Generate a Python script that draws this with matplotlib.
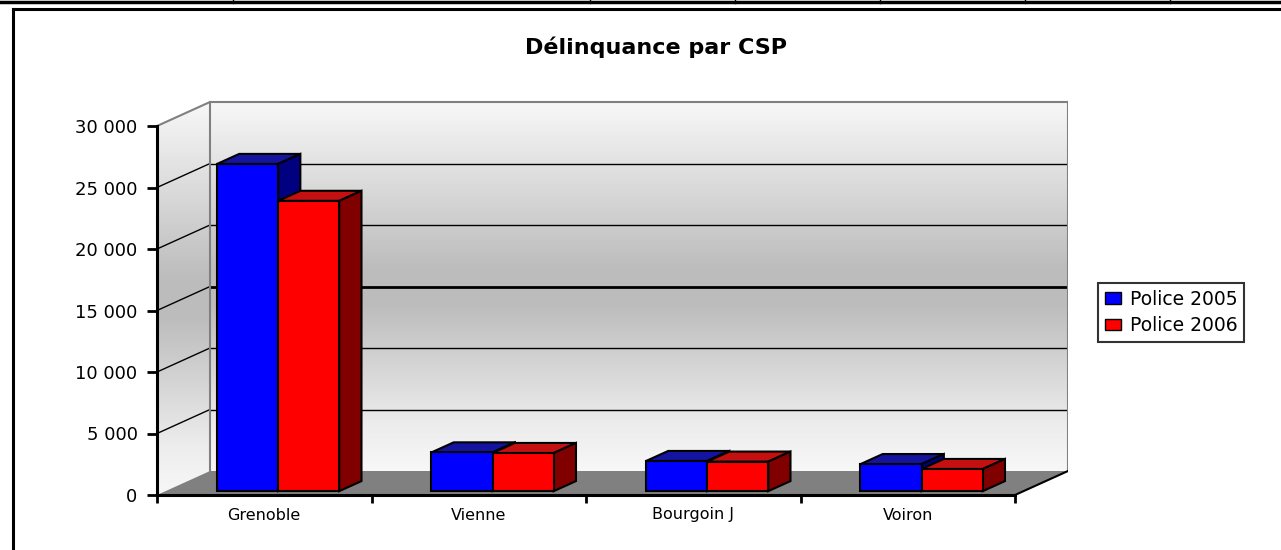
import matplotlib
matplotlib.use("Agg")
import matplotlib.pyplot as plt
import numpy as np
from matplotlib.patches import Polygon, Patch
from matplotlib.lines import Line2D

cities = ["Grenoble", "Vienne", "Bourgoin J", "Voiron"]
police_2005 = [26600, 3150, 2450, 2200]
police_2006 = [23600, 3100, 2400, 1800]
series_names = ["Police 2005", "Police 2006"]
y_ticks = [0, 5000, 10000, 15000, 20000, 25000, 30000]

W, H = 1281, 550
fig = plt.figure(figsize=(W / 100, H / 100), dpi=100)

# pixel geometry of the fake 3d box
x_front, y_front = 157, 495      # front corner of the axes
px_cat = 214.5                    # pixels per category
px_val = 369 / 30000              # pixels per unit on the front face
depth_px = (53, 24)               # offset front -> back wall
right_px, top_px = 1068, 100

DX = depth_px[0] / px_cat
DY = depth_px[1] / px_val
n = len(cities)
ymax = y_ticks[-1]

ax = fig.add_axes([x_front / W, (H - y_front) / H,
                   (right_px - x_front) / W, (y_front - top_px) / H])
ax.set_xlim(0, (right_px - x_front) / px_cat)
ax.set_ylim(0, (y_front - top_px) / px_val)
ax.patch.set_visible(False)

# gray gradient: light at top and bottom, darker in the middle
t = np.linspace(0, 1, 256)
shade = np.interp(t, [0, 0.12, 0.45, 0.55, 0.88, 1], [0.97, 0.93, 0.74, 0.74, 0.91, 0.97])
grad = np.dstack([shade, shade, shade])[0][:, None, :]

ax.imshow(grad, extent=[DX, n + DX, DY, ymax + DY], aspect="auto",
          origin="lower", zorder=0, interpolation="bilinear")
side = Polygon([(0, 0), (DX, DY), (DX, ymax + DY), (0, ymax)],
               closed=True, facecolor="none", edgecolor="none")
ax.add_patch(side)
im = ax.imshow(grad, extent=[0, DX, 0, ymax + DY], aspect="auto",
               origin="lower", zorder=0, interpolation="bilinear")
im.set_clip_path(side)

# floor
ax.add_patch(Polygon([(0, 0), (n, 0), (n + DX, DY), (DX, DY)], closed=True,
                     facecolor="#808080", edgecolor="none", zorder=1))
ax.plot([n, n + DX], [0, DY], color="black", lw=1.5, zorder=1.5)

# gridlines on side and back walls
for v in y_ticks[1:-1]:
    lw = 2 if v == 15000 else 1
    ax.plot([0, DX], [v, v + DY], color="black", lw=1, zorder=1)
    ax.plot([DX, n + DX], [v + DY, v + DY], color="black", lw=lw, zorder=1)
ax.plot([0, DX, n + DX], [ymax, ymax + DY, ymax + DY], color="#808080", lw=1.5, zorder=1)
ax.plot([DX, DX], [DY, ymax + DY], color="#808080", lw=1.5, zorder=1)
ax.plot([n + DX, n + DX], [DY, ymax + DY], color="#808080", lw=1.5, zorder=1)

# bars
f0, fd = 0.16, 0.42
bar_w, offset = 0.285, 0.24
colors = [("#0000ff", "#1414a0", "#000080"), ("#ff0000", "#c41010", "#800000")]
z = 2
for i in range(n):
    for k, vals in enumerate([police_2005, police_2006]):
        front, top_c, side_c = colors[k]
        x0 = i + offset + k * bar_w + f0 * DX
        base = f0 * DY
        v = vals[i]
        top = base + v
        ddx, ddy = fd * DX, fd * DY
        ax.add_patch(Polygon([(x0, top), (x0 + bar_w, top),
                              (x0 + bar_w + ddx, top + ddy), (x0 + ddx, top + ddy)],
                             closed=True, facecolor=top_c, edgecolor="black", lw=1.5, zorder=z))
        ax.add_patch(Polygon([(x0 + bar_w, base), (x0 + bar_w, top),
                              (x0 + bar_w + ddx, top + ddy), (x0 + bar_w + ddx, base + ddy)],
                             closed=True, facecolor=side_c, edgecolor="black", lw=1.5, zorder=z))
        ax.bar(x0, v, width=bar_w, bottom=base, align="edge", color=front,
               edgecolor="black", lw=1.5, zorder=z + 0.5)
        z += 1

# axes lines and ticks
for s in ["top", "right"]:
    ax.spines[s].set_visible(False)
ax.spines["left"].set_bounds(0, ymax)
ax.spines["bottom"].set_bounds(0, n)
ax.spines["left"].set_linewidth(2.2)
ax.spines["bottom"].set_linewidth(2.2)
ax.spines["left"].set_zorder(20)
ax.spines["bottom"].set_zorder(20)
ax.set_yticks(y_ticks)
ax.set_yticklabels([f"{v:,}".replace(",", " ") for v in y_ticks], fontsize=13)
ax.tick_params(axis="y", direction="out", length=7, width=2, pad=7)
ax.set_xticks(range(n + 1))
ax.set_xticklabels([])
ax.set_xticks(np.arange(n) + 0.5, minor=True)
ax.set_xticklabels(cities, minor=True, fontsize=11.5)
ax.tick_params(axis="x", which="major", direction="out", length=6, width=2)
ax.tick_params(axis="x", which="minor", length=0, pad=9)

# title and legend
fig.text(656 / W, 1 - 47 / H, "Délinquance par CSP", ha="center", va="center",
         fontsize=16, fontweight="bold")
handles = [Patch(facecolor=c[0], edgecolor="black", lw=1) for c in colors]
leg = fig.legend(handles, series_names, loc="upper left",
                 bbox_to_anchor=(1098 / W, 1 - 283 / H), fontsize=13.5,
                 frameon=True, fancybox=False, handlelength=0.9, handleheight=0.6,
                 handletextpad=0.45, borderpad=0.35, labelspacing=0.4,
                 borderaxespad=0)
leg.get_frame().set_edgecolor("black")
leg.get_frame().set_linewidth(1.5)

# spreadsheet cell border above, and the chart frame
fig.add_artist(Line2D([0, 1], [1 - 1.5 / H, 1 - 1.5 / H], color="black", lw=2.5))
for xs in [233, 590, 735, 880, 1025, 1170]:
    fig.add_artist(Line2D([xs / W, xs / W], [1, 1 - 3 / H], color="black", lw=1))
fig.add_artist(Line2D([13 / W, 1], [1 - 9 / H, 1 - 9 / H], color="black", lw=2.2))
fig.add_artist(Line2D([13 / W, 13 / W], [0, 1 - 9 / H], color="black", lw=2.2))

fig.savefig("out.png", dpi=100)
